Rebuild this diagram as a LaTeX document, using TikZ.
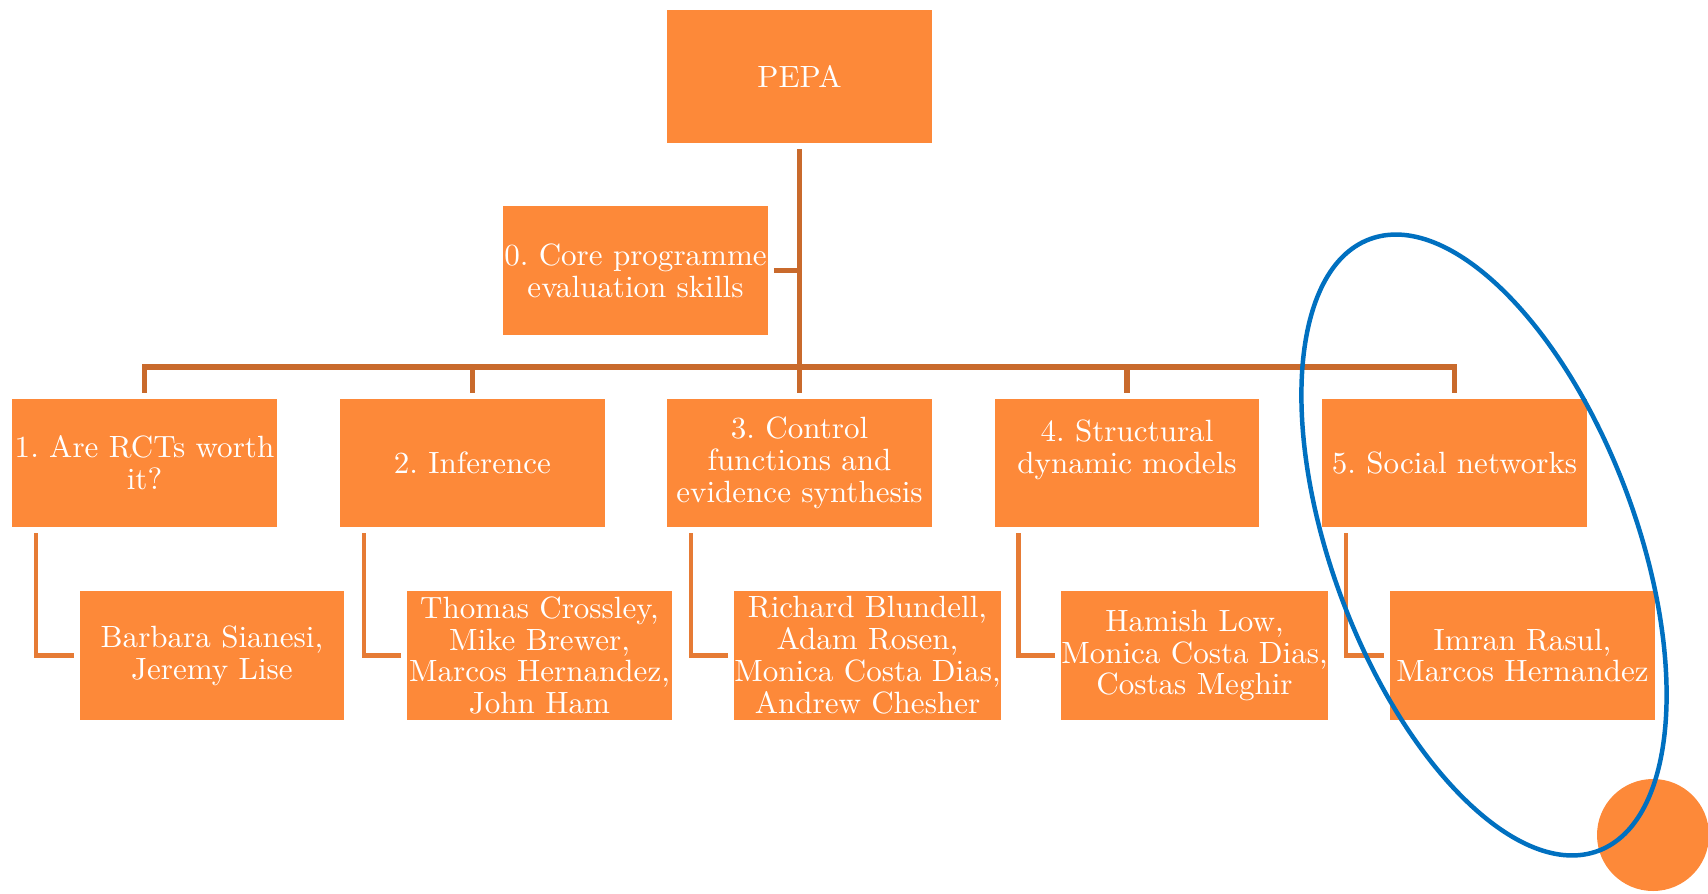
\documentclass[tikz,border=0pt]{standalone}
\usepackage{fontspec}
\setmainfont{lmroman10-regular.otf}[FakeStretch=1.01]
\frenchspacing
\definecolor{boxorange}{HTML}{FD8939}
\definecolor{treeline}{HTML}{C96A2C}
\definecolor{elbowline}{HTML}{E67B35}
\definecolor{ringblue}{HTML}{0070C0}
\tikzset{
  topic/.style={fill=boxorange, text=white, align=center, inner sep=0pt,
    minimum width=5.3cm, minimum height=2.58cm, outer sep=0.12cm,
    font=\fontsize{17.5}{18.2}\selectfont},
  tree/.style={draw=treeline, line width=3.1pt},
  elbow/.style={draw=elbowline, line width=2.55pt},
}
\begin{document}
\begin{tikzpicture}[x=0.02cm,y=-0.02cm]
     		\path[use as bounding box] (0,0) rectangle (1708,893);
     		\node[topic,minimum height=2.66cm] (pepa) at (799.5,76.5) {PEPA};
     		\node[topic] (core) at (635.5,270.5) {0. Core programme\\evaluation skills};
     		\node[topic] (rct) at (144.5,463) {1. Are RCTs worth\\it?};
     		\node[topic] (inf) at (472.5,463) {2. Inference};
     		\node[topic] (ctrl) at (799.5,463) {3. Control\\functions and\\evidence synthesis};
     		\node[topic] (struc) at (1127,463) {4. Structural\\dynamic models\\\mbox{}};
     		\node[topic] (soc) at (1454.5,463) {5. Social networks};
     		\node[topic] (rctp) at (212,655.5) {Barbara Sianesi,\\Jeremy Lise};
     		\node[topic] (infp) at (539.5,655.5) {Thomas Crossley,\\Mike Brewer,\\Marcos Hernandez,\\John Ham};
     		\node[topic] (ctrlp) at (867.5,655.5) {Richard Blundell,\\Adam Rosen,\\Monica Costa Dias,\\Andrew Chesher};
     		\node[topic] (strucp) at (1194.5,655.5) {Hamish Low,\\Monica Costa Dias,\\Costas Meghir};
     		\node[topic] (socp) at (1522.5,655.5) {Imran Rasul,\\Marcos Hernandez};
     		\coordinate (bar) at (799.5,367);
     		\draw[tree] (pepa.south) -- (ctrl.north);
     		\draw[tree] (core.east) -- (core.east -| pepa.south);
     		\draw[tree] (rct.north) |- (bar) -| (soc.north);
     		\foreach \t in {inf,struc} \draw[tree] (\t.north) -- (\t.north |- bar);
     		\foreach \t/\p in {rct/rctp,inf/infp,ctrl/ctrlp,struc/strucp,soc/socp}
     		  \draw[elbow] ([xshift=0.6cm]\t.south west) |- (\p.west);
		\fill[boxorange] (1653,835) circle[radius=56];
		\draw[ringblue,line width=2.55pt,rotate around={-69.5:(1484,545)}] (1484,545) ellipse[x radius=326.5,y radius=152];
		\end{tikzpicture}
\end{document}
